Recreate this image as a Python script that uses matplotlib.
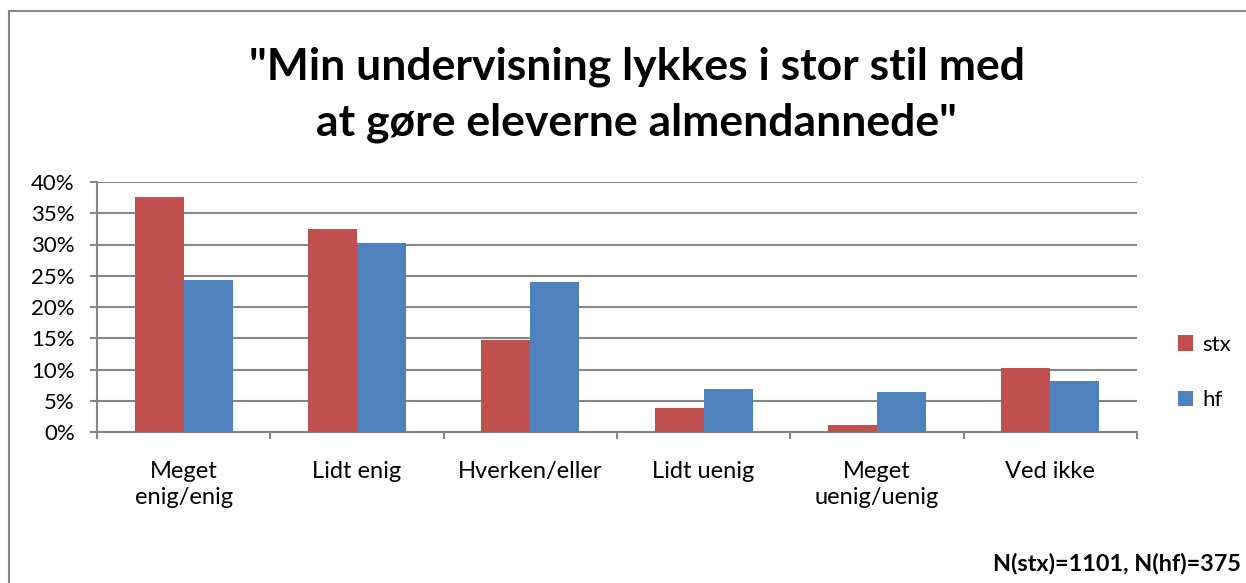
import numpy as np
import matplotlib.pyplot as plt
from matplotlib.patches import Rectangle
from matplotlib.ticker import FixedLocator, PercentFormatter

plt.rcParams['font.family'] = ['Lato', 'DejaVu Sans']

categories = ['Meget\nenig/enig', 'Lidt enig', 'Hverken/eller', 'Lidt uenig',
              'Meget\nuenig/uenig', 'Ved ikke']
stx = [37.6, 32.5, 14.8, 3.9, 1.1, 10.3]
hf = [24.3, 30.2, 24.0, 6.9, 6.4, 8.2]
series_names = ['stx', 'hf']
title = '"Min undervisning lykkes i stor stil med\nat gøre eleverne almendannede"'
note = 'N(stx)=1101, N(hf)=375'

fig = plt.figure(figsize=(12.46, 5.83), dpi=100)
ax = fig.add_axes([97 / 1246, 1 - 432 / 583, 1040 / 1246, 250 / 583])

x = np.arange(len(categories))
w = 0.283
ax.bar(x - w / 2, stx, w, color='#C0504D', label=series_names[0], zorder=3)
ax.bar(x + w / 2, hf, w, color='#4F81BD', label=series_names[1], zorder=3)

ax.set_xlim(-0.5, len(categories) - 0.5)
ax.set_ylim(0, 40)
ax.yaxis.set_major_locator(FixedLocator(np.arange(0, 41, 5)))
ax.yaxis.set_major_formatter(PercentFormatter(decimals=0))
ax.grid(axis='y', color='#868686', linewidth=1.5, zorder=0)
for s in ['top', 'right']:
    ax.spines[s].set_visible(False)
ax.spines['left'].set_color('#868686')
ax.spines['bottom'].set_color('#868686')
ax.spines['left'].set_linewidth(1.5)
ax.spines['bottom'].set_linewidth(1.5)
ax.tick_params(axis='y', length=5, width=1.5, color='#868686', labelsize=16, pad=11)
ax.set_xticks(x)
ax.set_xticklabels(categories, fontsize=17, linespacing=1.3)
ax.tick_params(axis='x', length=0, pad=21)
ax.set_xticks(np.arange(-0.5, len(categories)), minor=True)
ax.tick_params(axis='x', which='minor', length=5, width=1.5, color='#868686')

fig.text(0.511, 1 - 95 / 583, title, ha='center', va='center', fontsize=32,
         fontweight='bold', linespacing=1.48)

ax.legend(loc='center left', bbox_to_anchor=(1.02, 0.238), frameon=False,
          fontsize=16, handlelength=0.7, handleheight=0.7, handletextpad=0.4,
          labelspacing=1.6)

fig.text(993 / 1246, 1 - 563 / 583, note, ha='left', va='center', fontsize=16.8,
         fontweight='bold')

fig.patches.append(Rectangle((9 / 1246, -0.1), 1.2, 1 - 11 / 583 + 0.1,
                             transform=fig.transFigure, fill=False,
                             edgecolor='#868686', linewidth=1.5))

fig.savefig('out.png', dpi=100)
